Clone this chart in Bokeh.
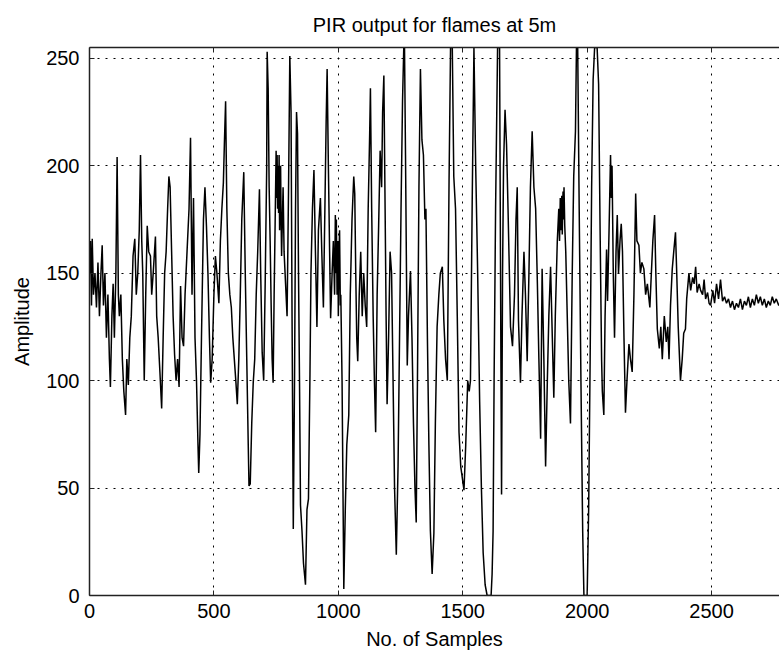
from bokeh.plotting import figure
from bokeh.models import LinearAxis, FixedTicker, Range1d
from bokeh.embed import file_html
from bokeh.resources import INLINE

# (sample, amplitude) pairs, region by region
part1 = [(0,150),(4,165),(8,135),(11,166),(16,140),(22,150),(28,134),(34,155),(40,130),(46,150),(51,163),(56,135),(62,150),(68,120),(74,140),(80,110),(84,97),(90,130),(95,145),(100,120),(106,150),(111,204),(116,140),(120,130),(126,140),(132,110),(138,95),(145,84),(150,110),(156,98),(162,120),(168,130),(175,158),(182,166),(188,140),(194,150),(200,170),(205,205),(210,165),(214,150),(220,100),(226,140),(232,172),(238,160),(245,158),(250,140),(256,150),(265,167),(270,130),(276,120),(283,104),(290,87),(296,120),(302,150),(308,160),(314,180),(319,195),(324,190),(330,160),(336,130),(342,112),(348,100),(354,110),(360,97),(366,144),(372,120),(378,116),(384,140),(392,160),(400,180),(406,213),(412,140),(418,185),(424,120),(430,100),(436,70),(439,57),(444,75),(450,120),(458,175),(464,190),(470,172),(476,150),(482,120),(487,99),(493,110),(500,140),(506,158),(512,150),(520,136),(526,165),(532,180),(538,192),(542,210),(547,230),(552,180),(558,150),(564,140),(570,134),(576,120),(582,110),(588,100),(594,89),(600,110),(606,140),(612,175),(620,197),(626,150),(632,110),(638,70),(641,51),(646,52),(652,80),(658,99),(664,110),(670,140),(676,160),(683,189),(688,150),(694,113)]
part2 = [(700,100),(706,145),(712,198),(714,253),(718,236),(722,190),(726,165),(730,135),(734,110),(738,99),(742,140),(746,173),(750,207),(752,185),(754,205),(756,180),(758,200),(760,178),(762,205),(764,170),(766,195),(768,200),(770,175),(772,158),(778,190),(782,160),(788,145),(794,130),(800,190),(805,251),(810,225),(814,130),(819,31),(824,100),(828,180),(832,225),(836,215),(840,150),(844,100),(848,42),(854,30),(860,15),(868,5),(874,40),(880,45),(886,103),(890,150),(896,180),(902,198),(908,160),(914,125),(920,170),(928,185),(934,158),(940,134),(946,180),(951,220),(955,245),(960,200),(965,160),(969,129),(975,150),(980,165),(985,140),(988,177),(990,150),(992,175),(995,140),(998,165),(1000,130),(1003,160),(1005,170),(1008,135),(1010,140),(1015,100),(1022,3),(1028,40),(1034,70),(1042,84),(1048,140),(1055,175),(1062,195),(1066,187),(1070,150),(1074,120),(1078,109),(1084,140),(1090,160),(1096,130),(1102,150),(1108,135),(1114,125),(1120,180),(1126,215),(1129,236),(1134,180),(1140,130),(1145,100),(1150,76),(1156,140),(1162,172),(1168,207),(1174,190),(1178,225),(1183,242),(1188,180),(1192,130),(1196,89),(1202,120),(1208,160),(1214,150),(1220,100),(1226,50),(1233,19),(1240,60),(1246,120),(1252,180),(1258,230),(1263,255),(1266,255),(1270,205),(1277,107),(1282,130),(1290,151),(1296,120),(1302,80),(1308,50),(1313,34),(1318,100),(1324,190),(1330,245),(1336,212),(1342,205),(1348,175),(1352,180),(1358,120),(1364,70),(1370,30)]
part3 = [(1377,10),(1384,29),(1390,80),(1397,125),(1404,140),(1410,150),(1418,153),(1424,128),(1431,110),(1438,100),(1445,193),(1451,255),(1458,255),(1464,195),(1471,180),(1478,130),(1485,76),(1492,60),(1498,55),(1505,49),(1512,70),(1520,100),(1526,95),(1531,100),(1538,183),(1545,255),(1552,200),(1560,150),(1568,90),(1575,50),(1582,20),(1590,5),(1598,0),(1606,0),(1614,0),(1618,10),(1622,30),(1626,100),(1632,180),(1640,255),(1648,255),(1653,120),(1656,47),(1660,150),(1664,200),(1670,226),(1676,210),(1682,180),(1686,158),(1692,125),(1700,116),(1708,140),(1714,175),(1719,190),(1724,128),(1732,99),(1738,130),(1746,160),(1752,140),(1759,109),(1766,150),(1772,190),(1779,216),(1786,190),(1793,180),(1800,145),(1806,110),(1813,73),(1819,152),(1826,110),(1833,60),(1840,100),(1846,130),(1853,153),(1860,120),(1866,92),(1872,130),(1880,165),(1886,180),(1889,165),(1892,185),(1895,170),(1898,186),(1900,168),(1903,188),(1905,175),(1907,190),(1910,172),(1914,160),(1920,130),(1926,100),(1933,80),(1940,150),(1946,195),(1953,216),(1957,255),(1962,255),(1968,180),(1975,100),(1982,30),(1987,0),(1994,0),(2000,0),(2006,40),(2012,110),(2018,190),(2024,240),(2030,255)]
part4 = [(2040,255),(2046,238),(2052,170),(2058,110),(2061,95),(2067,84),(2072,130),(2078,161),(2082,137),(2088,170),(2094,205),(2097,185),(2100,200),(2103,170),(2105,150),(2110,120),(2116,160),(2121,177),(2126,150),(2132,165),(2137,173),(2142,160),(2148,120),(2154,85),(2160,100),(2168,117),(2174,110),(2181,104),(2188,140),(2195,187),(2200,165),(2208,163),(2214,150),(2220,155),(2228,152),(2235,140),(2242,145),(2252,134),(2258,150),(2264,165),(2271,177),(2276,150),(2282,124),(2290,115),(2296,125),(2302,110),(2310,130),(2318,118),(2324,125),(2329,110),(2335,135),(2342,152),(2348,160),(2355,169),(2360,150),(2366,125),(2375,100),(2382,110),(2388,122),(2395,124),(2400,138),(2409,150),(2416,142),(2424,148),(2430,145),(2436,153),(2442,141),(2450,145),(2456,142),(2464,140),(2470,147),(2476,138),(2484,141),(2490,136)]
part5 = [(2496,135),(2505,142),(2512,136),(2520,145),(2528,138),(2536,147),(2544,137),(2552,139),(2560,136),(2568,138),(2576,134),(2584,137),(2592,133),(2600,136),(2608,134),(2616,138),(2624,133),(2632,137),(2640,135),(2648,139),(2656,134),(2664,138),(2672,135),(2680,140),(2688,136),(2696,139),(2704,135),(2712,138),(2720,134),(2728,137),(2736,135),(2744,139),(2752,136),(2760,138),(2770,135),(2780,137)]

x_ticks = [0, 500, 1000, 1500, 2000, 2500]
y_ticks = [0, 50, 100, 150, 200, 250]
title_text = "PIR output for flames at 5m"
x_label = "No. of Samples"
y_label = "Amplitude"

pairs = part1 + part2 + part3 + part4 + part5
samples = [s for s, _ in pairs]
amplitude = [a for _, a in pairs]

FONT = "Liberation Sans"
FS = "20px"

p = figure(frame_width=690, frame_height=548, output_backend="svg", toolbar_location=None,
           x_range=Range1d(0, 2773), y_range=Range1d(0, 255),
           min_border_left=89, min_border_right=0, min_border_top=47, min_border_bottom=60,
           background_fill_color="white", border_fill_color="white")
p.outline_line_color = None

p.title.text = title_text
p.title.align = "center"
p.title.text_font = FONT
p.title.text_font_size = FS
p.title.text_font_style = "normal"
p.title.text_color = "black"
p.title.standoff = 23

p.line(samples, amplitude, line_color="black", line_width=1.5)

for ax in (p.xaxis[0], p.yaxis[0]):
    ax.major_tick_in = 5
    ax.major_tick_out = 0
    ax.minor_tick_line_color = None
    ax.axis_line_color = "#222222"
    ax.axis_line_width = 1.5
    ax.major_tick_line_color = "#222222"
    ax.major_label_text_font = FONT
    ax.major_label_text_font_size = FS
    ax.major_label_text_color = "black"
    ax.axis_label_text_font = FONT
    ax.axis_label_text_font_size = FS
    ax.axis_label_text_font_style = "normal"
    ax.axis_label_text_color = "black"

p.xaxis.ticker = FixedTicker(ticks=x_ticks)
p.yaxis.ticker = FixedTicker(ticks=y_ticks)
p.xaxis.axis_label = x_label
p.yaxis.axis_label = y_label
p.xaxis.major_label_standoff = 8
p.yaxis.major_label_standoff = 10
p.xaxis.axis_label_standoff = 7
p.yaxis.axis_label_standoff = 10

top = LinearAxis(ticker=FixedTicker(ticks=x_ticks), major_tick_in=5, major_tick_out=0,
                 minor_tick_line_color=None, major_label_text_color=None,
                 major_label_text_font_size="1px", major_tick_line_color="#222222",
                 axis_line_color="#222222", axis_line_width=1.5, major_label_standoff=0)
p.add_layout(top, "above")

for g in (p.xgrid[0], p.ygrid[0]):
    g.grid_line_color = "black"
    g.grid_line_dash = "2 6"
    g.grid_line_width = 1
p.xgrid.ticker = FixedTicker(ticks=x_ticks)
p.ygrid.ticker = FixedTicker(ticks=y_ticks)

open("out.html", "w").write(file_html(p, INLINE))
